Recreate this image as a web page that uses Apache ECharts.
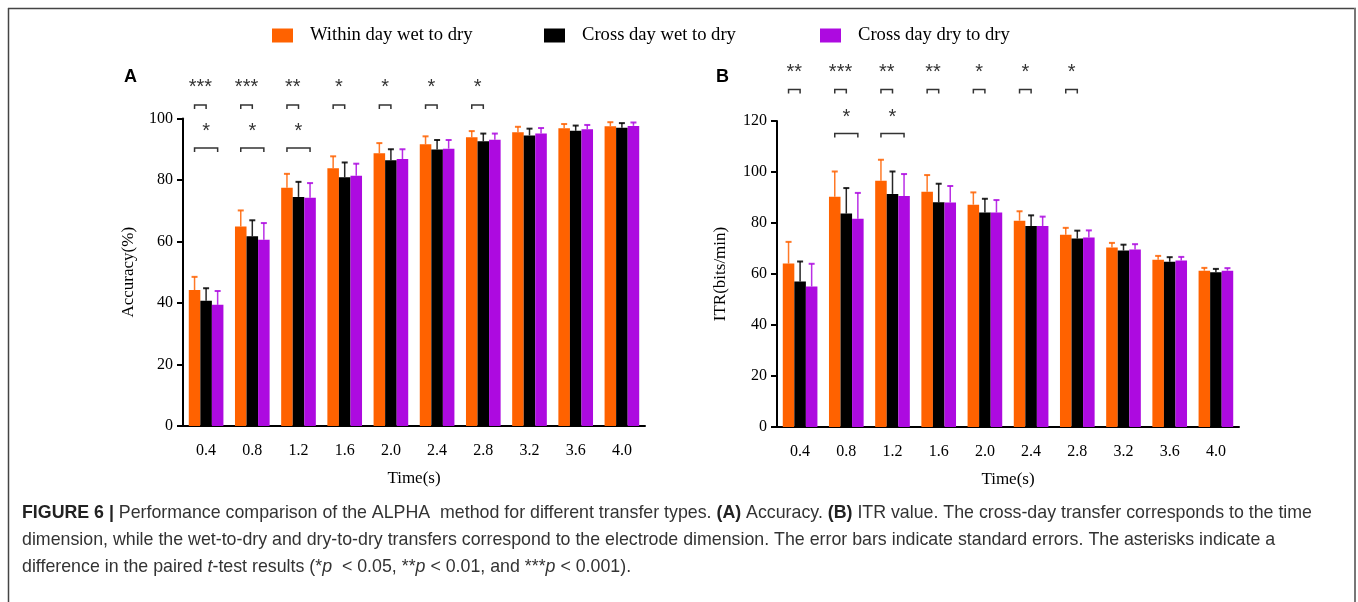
<!DOCTYPE html>
<html>
<head>
<meta charset="utf-8">
<script src="https://cdn.jsdelivr.net/npm/echarts@6/dist/echarts.min.js"></script>
<style>
html, body { margin: 0; padding: 0; background: #fff; }
#main { width: 1358px; height: 602px; }
</style>
</head>
<body>
<div id="main"></div>
<script>
// categories
var times = ['0.4', '0.8', '1.2', '1.6', '2.0', '2.4', '2.8', '3.2', '3.6', '4.0'];
var seriesNames = ['Within day wet to dry', 'Cross day wet to dry', 'Cross day dry to dry'];

// A: accuracy (%) means and upper standard errors
var accWithin = [44.2, 64.9, 77.5, 83.8, 88.7, 91.6, 93.9, 95.5, 96.8, 97.5];
var accWithinErr = [4.3, 5.2, 4.5, 3.9, 3.3, 2.6, 2.0, 1.8, 1.4, 1.3];
var accCrossWet = [40.7, 61.7, 74.5, 80.9, 86.4, 89.9, 92.6, 94.5, 96.0, 97.0];
var accCrossWetErr = [4.1, 5.2, 4.9, 4.8, 3.6, 3.1, 2.5, 2.2, 1.7, 1.5];
var accCrossDry = [39.4, 60.6, 74.2, 81.4, 86.8, 90.2, 93.1, 95.1, 96.5, 97.6];
var accCrossDryErr = [4.5, 5.4, 4.8, 3.9, 3.2, 2.8, 2.0, 1.8, 1.4, 1.1];

// B: ITR (bits/min)
var itrWithin = [64.1, 90.3, 96.6, 92.3, 87.2, 80.9, 75.4, 70.4, 65.6, 61.3];
var itrWithinErr = [8.5, 9.9, 8.2, 6.5, 4.8, 3.7, 2.7, 1.8, 1.5, 1.1];
var itrCrossWet = [57.1, 83.7, 91.4, 88.1, 84.1, 78.8, 73.9, 69.2, 64.8, 60.7];
var itrCrossWetErr = [7.8, 10.0, 8.8, 7.3, 5.4, 4.2, 3.1, 2.3, 1.8, 1.3];
var itrCrossDry = [55.1, 81.7, 90.6, 88.0, 84.1, 78.8, 74.3, 69.6, 65.3, 61.3];
var itrCrossDryErr = [8.9, 10.1, 8.6, 6.5, 4.9, 3.7, 2.8, 2.1, 1.4, 1.0];

// significance marks: top row = within vs cross wet, bottom row = within vs cross dry
var sigAccTop = ['***', '***', '**', '*', '*', '*', '*', '', '', ''];
var sigAccBottom = ['*', '*', '*', '', '', '', '', '', '', ''];
var sigItrTop = ['**', '***', '**', '**', '*', '*', '*', '', '', ''];
var sigItrBottom = ['', '*', '*', '', '', '', '', '', '', ''];

var colors = ['#ff6200', '#000000', '#ad0ae0'];
var serif = 'Liberation Serif';
var sans = 'Liberation Sans';

var chart = echarts.init(document.getElementById('main'));

function errData(vals, errs) {
    return vals.map(function (v, i) { return [i, v, errs[i]]; });
}

function errRender(k) {
    return function (params, api) {
        var i = api.value(0), v = api.value(1), e = api.value(2);
        var band = api.size([1, 0])[0];
        var bw = band * 0.25;
        var p0 = api.coord([i, v]);
        var p1 = api.coord([i, v + e]);
        var cx = p0[0] + (k - 1) * bw;
        return {
            type: 'group',
            children: [
                { type: 'line', shape: { x1: cx, y1: p0[1], x2: cx, y2: p1[1] }, style: { stroke: colors[k], lineWidth: 1.5, opacity: 0.85 } },
                { type: 'line', shape: { x1: cx - 3, y1: p1[1], x2: cx + 3, y2: p1[1] }, style: { stroke: colors[k], lineWidth: 2, opacity: 0.85 } }
            ]
        };
    };
}

function sigData(top, bottom) {
    var out = [];
    top.forEach(function (s, i) { if (s) out.push([i, 0, 0]); });
    bottom.forEach(function (s, i) { if (s) out.push([i, 0, 1]); });
    return out;
}

// offsets of brackets / stars from the grid top, per panel
function sigRender(top, bottom, lay) {
    return function (params, api) {
        var i = api.value(0), row = api.value(2);
        var label = row === 0 ? top[i] : bottom[i];
        var band = api.size([1, 0])[0];
        var bw = band * 0.25;
        var cx = api.coord([i, 0])[0];
        var x1 = cx - bw;
        var x2 = row === 0 ? cx : cx + bw;
        var gy = params.coordSys.y;
        var by = gy + (row === 0 ? lay[0] : lay[2]);
        var sy = gy + (row === 0 ? lay[1] : lay[3]);
        return {
            type: 'group',
            children: [
                { type: 'polyline', shape: { points: [[x1, by + 4], [x1, by], [x2, by], [x2, by + 4]] }, style: { stroke: '#333', lineWidth: 1.5, fill: null } },
                { type: 'text', x: (x1 + x2) / 2, y: sy + 5, style: { text: label, fontSize: 20, fontFamily: sans, fill: '#333', align: 'center', verticalAlign: 'middle' } }
            ]
        };
    };
}

function barSeries(name, data, idx) {
    return {
        name: name, type: 'bar', xAxisIndex: idx, yAxisIndex: idx, data: data,
        barGap: '0%', barCategoryGap: '25%', itemStyle: { color: colors[seriesNames.indexOf(name)] }
    };
}

function errSeries(vals, errs, k, idx) {
    return {
        type: 'custom', xAxisIndex: idx, yAxisIndex: idx, data: errData(vals, errs),
        encode: { x: 0, y: 1 }, renderItem: errRender(k), z: 5, silent: true
    };
}

var axisLabelStyle = { fontFamily: serif, fontSize: 16, color: '#000' };

function xAxis(idx) {
    return {
        type: 'category', gridIndex: idx, data: times,
        name: 'Time(s)', nameLocation: 'middle', nameGap: 44,
        nameTextStyle: { fontFamily: serif, fontSize: 17, color: '#000' },
        axisLine: { lineStyle: { color: '#000', width: 2 } },
        axisTick: { alignWithLabel: true, length: 6, lineStyle: { color: '#000', width: 2 } },
        axisLabel: Object.assign({ margin: 17 }, axisLabelStyle)
    };
}

function yAxis(idx, name, max, gap) {
    return {
        type: 'value', gridIndex: idx, min: 0, max: max, interval: 20,
        name: name, nameLocation: 'middle', nameRotate: 90, nameGap: gap,
        nameTextStyle: { fontFamily: serif, fontSize: 17, color: '#000' },
        splitLine: { show: false },
        axisLine: { show: true, lineStyle: { color: '#000', width: 2 } },
        axisTick: { show: true, length: 6, lineStyle: { color: '#000', width: 2 } },
        axisLabel: Object.assign({ margin: 10 }, axisLabelStyle)
    };
}

function legendAt(left, name) {
    return {
        left: left, top: 21, itemWidth: 21, itemHeight: 14, icon: 'rect',
        data: [name],
        textStyle: { fontFamily: serif, fontSize: 18.6, color: '#000', padding: [0, 0, 0, 12] }
    };
}

var capStyle = {
    b: { fontWeight: 'bold', fontFamily: sans, fontSize: 17.8, fill: '#222' },
    i: { fontStyle: 'italic', fontFamily: sans, fontSize: 17.8, fill: '#333' }
};
function capLine(txt, y) {
    return {
        type: 'text', left: 22, top: y,
        style: { text: txt, fontFamily: sans, fontSize: 17.8, fill: '#333', rich: capStyle }
    };
}

var option = {
    backgroundColor: '#fff',
    animation: false,
    title: [
        { text: 'A', left: 119, top: 63, textStyle: { fontFamily: sans, fontSize: 18, fontWeight: 'bold', color: '#000' } },
        { text: 'B', left: 711, top: 63, textStyle: { fontFamily: sans, fontSize: 18, fontWeight: 'bold', color: '#000' } }
    ],
    legend: [
        legendAt(267, seriesNames[0]),
        legendAt(539, seriesNames[1]),
        legendAt(815, seriesNames[2])
    ],
    grid: [
        { left: 183, top: 118.5, width: 462, height: 307.5, outerBoundsMode: 'none' },
        { left: 777, top: 121, width: 462, height: 306, outerBoundsMode: 'none' }
    ],
    xAxis: [xAxis(0), xAxis(1)],
    yAxis: [yAxis(0, 'Accuracy(%)', 100, 46), yAxis(1, 'ITR(bits/min)', 120, 48)],
    series: [
        barSeries(seriesNames[0], accWithin, 0),
        barSeries(seriesNames[1], accCrossWet, 0),
        barSeries(seriesNames[2], accCrossDry, 0),
        barSeries(seriesNames[0], itrWithin, 1),
        barSeries(seriesNames[1], itrCrossWet, 1),
        barSeries(seriesNames[2], itrCrossDry, 1),
        errSeries(accWithin, accWithinErr, 0, 0),
        errSeries(accCrossWet, accCrossWetErr, 1, 0),
        errSeries(accCrossDry, accCrossDryErr, 2, 0),
        errSeries(itrWithin, itrWithinErr, 0, 1),
        errSeries(itrCrossWet, itrCrossWetErr, 1, 1),
        errSeries(itrCrossDry, itrCrossDryErr, 2, 1),
        {
            type: 'custom', xAxisIndex: 0, yAxisIndex: 0, data: sigData(sigAccTop, sigAccBottom),
            encode: { x: 0, y: 1 }, renderItem: sigRender(sigAccTop, sigAccBottom, [-13.5, -36.5, 29.5, 7.5]), silent: true
        },
        {
            type: 'custom', xAxisIndex: 1, yAxisIndex: 1, data: sigData(sigItrTop, sigItrBottom),
            encode: { x: 0, y: 1 }, renderItem: sigRender(sigItrTop, sigItrBottom, [-31.5, -54, 12.5, -9]), silent: true
        }
    ],
    graphic: [
        { type: 'line', shape: { x1: 8, y1: 8.5, x2: 1356, y2: 8.5 }, style: { stroke: '#444', lineWidth: 1.5 } },
        { type: 'line', shape: { x1: 8.5, y1: 8, x2: 8.5, y2: 602 }, style: { stroke: '#444', lineWidth: 1.5 } },
        { type: 'line', shape: { x1: 1355, y1: 8, x2: 1355, y2: 602 }, style: { stroke: '#777', lineWidth: 2 } },
        capLine('{b|FIGURE 6 |} Performance comparison of the ALPHA  method for different transfer types. {b|(A)} Accuracy. {b|(B)} ITR value. The cross-day transfer corresponds to the time', 504),
        capLine('dimension, while the wet-to-dry and dry-to-dry transfers correspond to the electrode dimension. The error bars indicate standard errors. The asterisks indicate a', 531),
        capLine('difference in the paired {i|t}-test results (*{i|p}  < 0.05, **{i|p} < 0.01, and ***{i|p} < 0.001).', 558)
    ]
};

chart.setOption(option);
</script>
</body>
</html>
